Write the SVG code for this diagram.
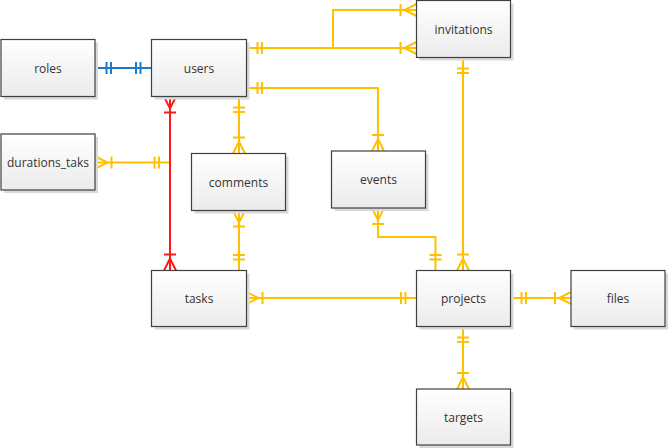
<svg xmlns="http://www.w3.org/2000/svg" width="668" height="448" viewBox="0 0 668 448">
<style>
.box{fill:url(#g);stroke:#404040;stroke-width:1.2}
.sh{fill:#d9d9d9}
.lbl{font-family:"Open Sans","Noto Sans",sans-serif;font-size:12px;fill:#333;text-anchor:middle;dominant-baseline:central}
.y{fill:none;stroke:#FFC000;stroke-width:2}
.r{fill:none;stroke:#FF1A1A;stroke-width:2}
.b{fill:none;stroke:#1C7BC9;stroke-width:2}
</style>
<defs>
<linearGradient id="g" x1="0" y1="0" x2="0" y2="1">
<stop offset="0" stop-color="#ffffff"/>
<stop offset="1" stop-color="#ebebeb"/>
</linearGradient>
<marker id="oneY" markerUnits="userSpaceOnUse" viewBox="-20 -8 20 16" refX="0" refY="0" markerWidth="20" markerHeight="16" orient="auto-start-reverse" overflow="visible">
<path d="M-11,-6V6M-15.5,-6V6" fill="none" stroke="#FFC000" stroke-width="2"/>
</marker>
<marker id="manyY" markerUnits="userSpaceOnUse" viewBox="-20 -8 20 16" refX="0" refY="0" markerWidth="20" markerHeight="16" orient="auto-start-reverse" overflow="visible">
<path d="M0,-6L-12,0L0,6M-16,-6V6" fill="none" stroke="#FFC000" stroke-width="2"/>
</marker>
<marker id="manyR" markerUnits="userSpaceOnUse" viewBox="-20 -8 20 16" refX="0" refY="0" markerWidth="20" markerHeight="16" orient="auto-start-reverse" overflow="visible">
<path d="M0,-6L-12,0L0,6M-16,-6V6" fill="none" stroke="#FF1A1A" stroke-width="2"/>
</marker>
<marker id="oneB" markerUnits="userSpaceOnUse" viewBox="-20 -8 20 16" refX="0" refY="0" markerWidth="20" markerHeight="16" orient="auto-start-reverse" overflow="visible">
<path d="M-11,-6V6M-15.5,-6V6" fill="none" stroke="#1C7BC9" stroke-width="2"/>
</marker>
</defs>
<rect width="668" height="448" fill="#fff"/>
<g id="connectors">
<path class="b" d="M95.5,68H151.5" marker-start="url(#oneB)" marker-end="url(#oneB)"/>
<path class="y" d="M246.5,48H416.5" marker-start="url(#oneY)" marker-end="url(#manyY)"/>
<path class="y" d="M333,48V10H416.5" marker-end="url(#manyY)"/>
<path class="y" d="M246.5,88H378V151" marker-start="url(#oneY)" marker-end="url(#manyY)"/>
<path class="y" d="M239,96.5V153.5" marker-start="url(#oneY)" marker-end="url(#manyY)"/>
<path class="y" d="M95.5,162.5H170" marker-start="url(#manyY)" marker-end="url(#oneY)"/>
<path class="r" d="M170,96.5V270.5" marker-start="url(#manyR)" marker-end="url(#manyR)"/>
<path class="y" d="M239,210.5V270.5" marker-start="url(#manyY)" marker-end="url(#oneY)"/>
<path class="y" d="M246.5,298H416.5" marker-start="url(#manyY)" marker-end="url(#oneY)"/>
<path class="y" d="M378,208V237H435.5V270.5" marker-start="url(#manyY)" marker-end="url(#oneY)"/>
<path class="y" d="M463,57.5V270.5" marker-start="url(#oneY)" marker-end="url(#manyY)"/>
<path class="y" d="M510.5,298H571" marker-start="url(#oneY)" marker-end="url(#manyY)"/>
<path class="y" d="M463,326.5V389" marker-start="url(#oneY)" marker-end="url(#manyY)"/>
</g>
<g id="roles"><rect class="sh" x="4" y="42.5" width="94" height="57"/><rect class="box" x="1" y="39.5" width="94" height="57"/><text class="lbl" x="48" y="68">roles</text></g>
<g id="users"><rect class="sh" x="154.5" y="42.5" width="95" height="57"/><rect class="box" x="151.5" y="39.5" width="95" height="57"/><text class="lbl" x="199" y="68">users</text></g>
<g id="invitations"><rect class="sh" x="419.5" y="3.5" width="94" height="57"/><rect class="box" x="416.5" y="0.5" width="94" height="57"/><text class="lbl" x="463.5" y="29">invitations</text></g>
<g id="durations_taks"><rect class="sh" x="4" y="137" width="94" height="56"/><rect class="box" x="1" y="134" width="94" height="56"/><text class="lbl" x="48" y="162">durations_taks</text></g>
<g id="comments"><rect class="sh" x="194.5" y="156.5" width="94" height="57"/><rect class="box" x="191.5" y="153.5" width="94" height="57"/><text class="lbl" x="238.5" y="182">comments</text></g>
<g id="events"><rect class="sh" x="334.5" y="154" width="94" height="57"/><rect class="box" x="331.5" y="151" width="94" height="57"/><text class="lbl" x="378.5" y="179.5">events</text></g>
<g id="tasks"><rect class="sh" x="154.5" y="273.5" width="95" height="56"/><rect class="box" x="151.5" y="270.5" width="95" height="56"/><text class="lbl" x="199" y="298.5">tasks</text></g>
<g id="projects"><rect class="sh" x="419.5" y="273.5" width="94" height="56"/><rect class="box" x="416.5" y="270.5" width="94" height="56"/><text class="lbl" x="463.5" y="298.5">projects</text></g>
<g id="files"><rect class="sh" x="574" y="273.5" width="94" height="56"/><rect class="box" x="571" y="270.5" width="94" height="56"/><text class="lbl" x="618" y="298.5">files</text></g>
<g id="targets"><rect class="sh" x="419.5" y="392" width="94" height="56"/><rect class="box" x="416.5" y="389" width="94" height="56"/><text class="lbl" x="463.5" y="417">targets</text></g>
</svg>
